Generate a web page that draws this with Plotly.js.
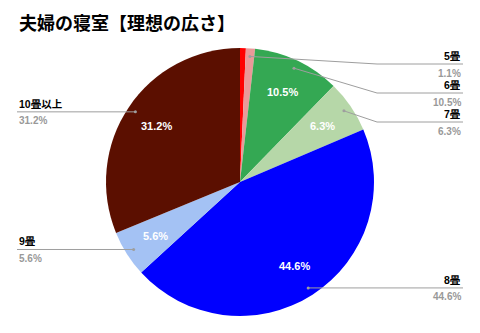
<!DOCTYPE html>
<html>
<head>
<meta charset="utf-8">
<script src="https://cdn.plot.ly/plotly-3.0.1.min.js"></script>
<style>
html,body{margin:0;padding:0;background:#fff;}
#chart{width:480px;height:333px;}
</style>
</head>
<body>
<div id="chart"></div>
<script>
// ---- data ----
const chartTitle = '夫婦の寝室【理想の広さ】';
const labels = ['4畳以下', '5畳', '6畳', '7畳', '8畳', '9畳', '10畳以上'];
const values = [0.7, 1.1, 10.5, 6.3, 44.6, 5.6, 31.2];
const showLeader = [false, true, true, true, true, true, true];
const colors = ['#ff0000', '#ea9999', '#34a853', '#b6d7a8', '#0000ff', '#a4c2f4', '#5b0f00'];

// ---- geometry / style ----
const W = 480, H = 333;
const cx = 240, cy = 182, R = 134;
const FONT = '"Liberation Sans", Arial, "Noto Sans CJK JP", sans-serif';
const px = x => x / W;
const py = y => 1 - y / H;

const total = values.reduce((a, b) => a + b, 0);
const annotations = [];
const shapes = [];

// title
annotations.push({
  text: '<b>' + chartTitle + '</b>', xref: 'paper', yref: 'paper',
  x: px(17), y: py(24), xanchor: 'left', yanchor: 'middle', showarrow: false,
  font: {family: FONT, size: 18, color: '#000'}
});

// slice mid angles
let cum = 0;
const mids = values.map(v => { const m = (cum + v / 2) / total * 2 * Math.PI; cum += v; return m; });

// inside percentage labels
values.forEach((v, i) => {
  const pct = v / total * 100;
  if (pct < 2) return;
  const r = 0.746 * R;
  annotations.push({
    text: '<b>' + pct.toFixed(1) + '%</b>', xref: 'paper', yref: 'paper',
    x: px(cx + r * Math.sin(mids[i])), y: py(cy - r * Math.cos(mids[i])),
    xanchor: 'center', yanchor: 'middle', showarrow: false,
    font: {family: FONT, size: 11, color: '#fff'}
  });
});

// outside leaders
const items = [];
values.forEach((v, i) => {
  if (!showLeader[i]) return;
  const a = mids[i];
  const dx = cx + 0.94 * R * Math.sin(a), dy = cy - 0.94 * R * Math.cos(a);
  items.push({i, dx, dy, right: Math.sin(a) > 0});
});
[true, false].forEach(side => {
  const grp = items.filter(o => o.right === side).sort((a, b) => a.dy - b.dy);
  let prev = -Infinity;
  grp.forEach(o => {
    o.ly = Math.max(o.dy, prev + 29, 64);
    prev = o.ly;
  });
});
const lineColor = '#9e9e9e';
items.forEach(o => {
  const bendX = o.right ? 377 : 103;
  const endX = o.right ? 463 : 17;
  shapes.push({type: 'line', xref: 'paper', yref: 'paper', x0: px(o.dx), y0: py(o.dy), x1: px(bendX), y1: py(o.ly), line: {color: lineColor, width: 1}});
  shapes.push({type: 'line', xref: 'paper', yref: 'paper', x0: px(bendX), y0: py(o.ly), x1: px(endX), y1: py(o.ly), line: {color: lineColor, width: 1}});
  shapes.push({type: 'circle', xref: 'paper', yref: 'paper', x0: px(o.dx - 1.5), x1: px(o.dx + 1.5), y0: py(o.dy - 1.5), y1: py(o.dy + 1.5), fillcolor: lineColor, line: {width: 0}});
  const anchor = o.right ? 'right' : 'left';
  annotations.push({
    text: '<b>' + labels[o.i] + '</b>', xref: 'paper', yref: 'paper',
    x: px(endX), y: py(o.ly - 8), xanchor: anchor, yanchor: 'middle', showarrow: false,
    font: {family: FONT, size: 10.5, color: '#000'}
  });
  annotations.push({
    text: '<b>' + (values[o.i] / total * 100).toFixed(1) + '%</b>', xref: 'paper', yref: 'paper',
    x: px(endX), y: py(o.ly + 9), xanchor: anchor, yanchor: 'middle', showarrow: false,
    font: {family: FONT, size: 10, color: '#999999'}
  });
});

const trace = {
  type: 'pie',
  labels: labels,
  values: values,
  sort: false,
  direction: 'clockwise',
  rotation: 0,
  textinfo: 'none',
  hoverinfo: 'label+percent',
  marker: {colors: colors, line: {width: 0}},
  domain: {x: [px(cx - R), px(cx + R)], y: [py(cy + R), py(cy - R)]},
  showlegend: false
};

Plotly.newPlot('chart', [trace], {
  width: W, height: H,
  margin: {l: 0, r: 0, t: 0, b: 0},
  paper_bgcolor: '#fff',
  showlegend: false,
  annotations: annotations,
  shapes: shapes
}, {staticPlot: true});
</script>
</body>
</html>
